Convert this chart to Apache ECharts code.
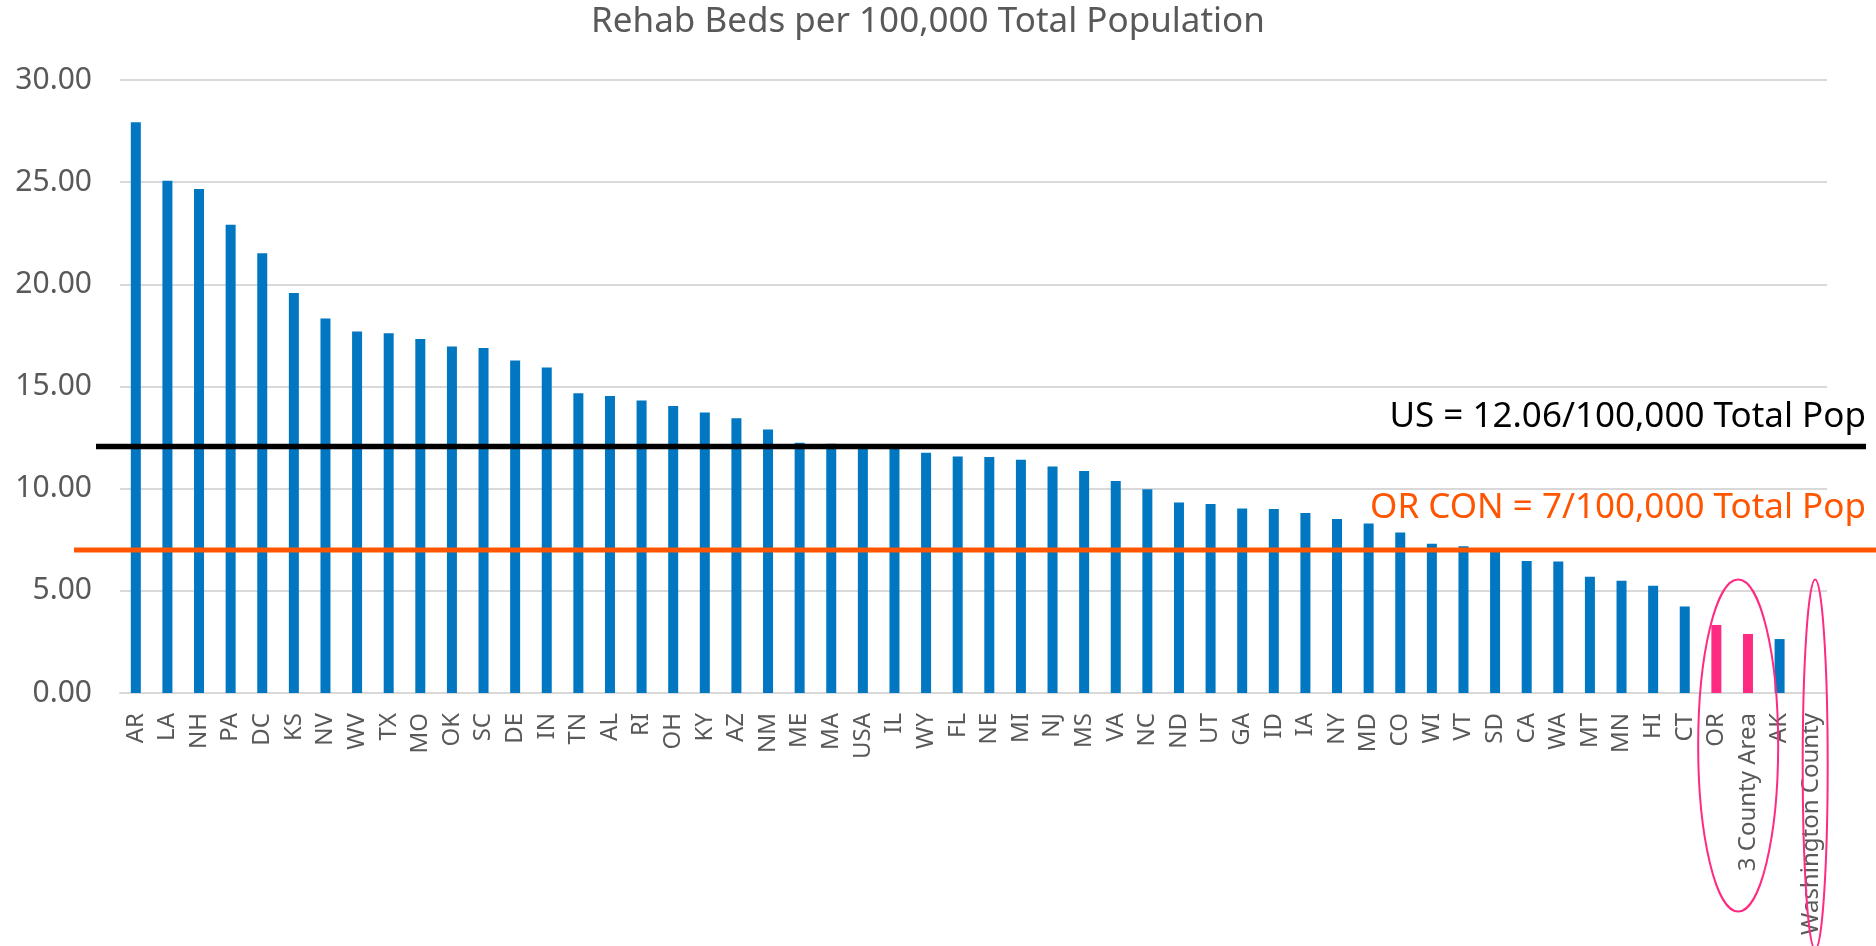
<!DOCTYPE html>
<html>
<head>
<meta charset="utf-8">
<title>Rehab Beds per 100,000 Total Population</title>
<script src="https://cdn.jsdelivr.net/npm/echarts@6/dist/echarts.min.js"></script>
<style>
  html, body { margin: 0; padding: 0; background: #ffffff; }
  #chart { width: 1876px; height: 946px; }
</style>
</head>
<body>
<div id="chart"></div>
<script>
// States and areas, sorted by rehab beds per 100,000 population
const categories = ['AR','LA','NH','PA','DC','KS','NV','WV','TX','MO','OK','SC','DE','IN','TN','AL','RI','OH','KY','AZ','NM','ME','MA','USA','IL','WY','FL','NE','MI','NJ','MS','VA','NC','ND','UT','GA','ID','IA','NY','MD','CO','WI','VT','SD','CA','WA','MT','MN','HI','CT','OR','3 County Area','AK','Washington County'];

const bedsPer100k = [27.93,25.07,24.66,22.92,21.52,19.58,18.33,17.69,17.61,17.32,16.96,16.88,16.27,15.93,14.67,14.54,14.32,14.05,13.73,13.45,12.90,12.25,12.20,12.06,11.95,11.76,11.58,11.55,11.42,11.09,10.87,10.38,9.97,9.32,9.25,9.03,9.00,8.81,8.51,8.30,7.86,7.31,7.18,6.95,6.46,6.44,5.69,5.49,5.25,4.23,3.33,2.89,2.64,null];

// Oregon areas shown in pink
const highlighted = ['OR', '3 County Area'];

// Reference rates
const usRate = 12.06;
const orConRate = 7;

// Y axis ticks
const yMin = 0, yMax = 30, yStep = 5;

const BLUE = '#0077C0';
const PINK = '#FF2A82';
const ORANGE = '#FF5500';
const GREY_TEXT = '#595959';

const chart = echarts.init(document.getElementById('chart'), null, { renderer: 'canvas' });

const option = {
  animation: false,
  backgroundColor: '#ffffff',
  title: {
    text: 'Rehab Beds per 100,000 Total Population',
    left: 586,
    top: 0,
    textStyle: { fontFamily: 'Noto Sans', fontSize: 35, fontWeight: 'normal', color: GREY_TEXT }
  },
  grid: { left: 120, right: 49, top: 80, bottom: 253, containLabel: false },
  xAxis: {
    type: 'category',
    data: categories,
    axisLine: { show: true, lineStyle: { color: '#D9D9D9', width: 2 } },
    axisTick: { show: false },
    axisLabel: {
      interval: 0,
      rotate: 90,
      margin: 20,
      fontFamily: 'Noto Sans',
      fontSize: 24,
      color: GREY_TEXT
    }
  },
  yAxis: {
    type: 'value',
    min: yMin,
    max: yMax,
    interval: yStep,
    axisLine: { show: false },
    axisTick: { show: false },
    splitLine: { lineStyle: { color: '#D9D9D9', width: 2 } },
    axisLabel: {
      margin: 28,
      fontFamily: 'Noto Sans',
      fontSize: 30,
      color: GREY_TEXT,
      formatter: v => v.toFixed(2)
    }
  },
  series: [{
    type: 'bar',
    barWidth: 10,
    data: bedsPer100k.map((v, i) => ({
      value: v,
      itemStyle: { color: highlighted.includes(categories[i]) ? PINK : BLUE }
    }))
  }]
};

chart.setOption(option);

// Reference lines, their captions and the ring annotations, placed through the axes
function overlay() {
  const gridLeft = chart.convertToPixel({ xAxisIndex: 0 }, categories[0]) - 15.8;
  const gridRight = chart.convertToPixel({ xAxisIndex: 0 }, categories[categories.length - 1]) + 15.8;
  const yUs = chart.convertToPixel({ yAxisIndex: 0 }, usRate);
  const yOr = chart.convertToPixel({ yAxisIndex: 0 }, orConRate);
  const ringTop = chart.convertToPixel({ yAxisIndex: 0 }, 5.55);

  const xOr = chart.convertToPixel({ xAxisIndex: 0 }, 'OR');
  const x3c = chart.convertToPixel({ xAxisIndex: 0 }, '3 County Area');
  const xWc = chart.convertToPixel({ xAxisIndex: 0 }, 'Washington County');

  const ring1Ry = 166, ring2Ry = 185;

  chart.setOption({
    graphic: [
      {
        type: 'line', z: 10,
        shape: { x1: gridLeft - 24, y1: yUs, x2: gridRight + 39, y2: yUs },
        style: { stroke: '#000000', lineWidth: 5.5 }
      },
      {
        type: 'line', z: 10,
        shape: { x1: gridLeft - 46, y1: yOr, x2: gridRight + 49, y2: yOr },
        style: { stroke: ORANGE, lineWidth: 5 }
      },
      {
        type: 'text', z: 11,
        x: gridRight + 39, y: yUs - 30,
        style: {
          text: 'US = 12.06/100,000 Total Pop',
          fill: '#000000',
          font: '35px "Noto Sans"',
          textAlign: 'right',
          textVerticalAlign: 'middle'
        }
      },
      {
        type: 'text', z: 11,
        x: gridRight + 39, y: yOr - 42,
        style: {
          text: 'OR CON = 7/100,000 Total Pop',
          fill: ORANGE,
          font: '35px "Noto Sans"',
          textAlign: 'right',
          textVerticalAlign: 'middle'
        }
      },
      {
        type: 'ellipse', z: 12,
        shape: { cx: (xOr + x3c) / 2 + 6, cy: ringTop + ring1Ry, rx: 40, ry: ring1Ry },
        style: { fill: 'none', stroke: PINK, lineWidth: 2 }
      },
      {
        type: 'ellipse', z: 12,
        shape: { cx: xWc + 4, cy: ringTop + ring2Ry, rx: 12.5, ry: ring2Ry },
        style: { fill: 'none', stroke: PINK, lineWidth: 2 }
      }
    ]
  });
}

overlay();
</script>
</body>
</html>
